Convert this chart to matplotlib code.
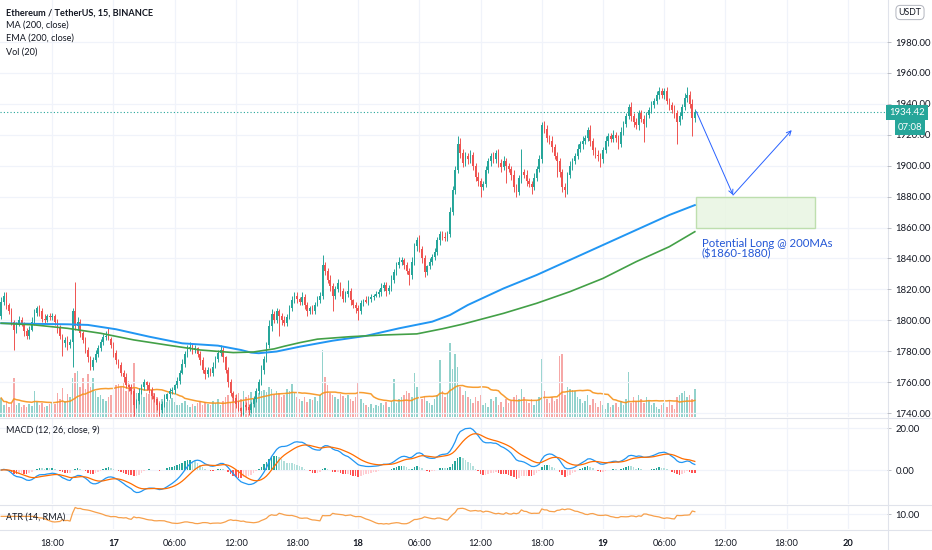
import numpy as np
import pandas as pd
import matplotlib
matplotlib.use("Agg")
import matplotlib.pyplot as plt
import matplotlib.transforms as mtransforms
from matplotlib.patches import Rectangle
from matplotlib.lines import Line2D

plt.rcParams['font.family'] = ['Lato', 'DejaVu Sans']

# ---------------- data (15-minute candles, first one = 16th 13:00) ----------------
first_open = 1803
close = [
    1812, 1816, 1810, 1806, 1799, 1794, 1797, 1800, 1798, 1793,
    1790, 1794, 1799, 1805, 1808, 1806, 1801, 1800, 1803, 1802,
    1803, 1799, 1795, 1790, 1785, 1787, 1784, 1786, 1806, 1796,
    1799, 1792, 1787, 1781, 1776, 1770, 1774, 1778, 1782, 1786,
    1789, 1790, 1788, 1784, 1779, 1774, 1771, 1766, 1763, 1758,
    1757, 1754, 1745, 1748, 1753, 1757, 1760, 1758, 1755, 1751,
    1749, 1745, 1742, 1746, 1749, 1752, 1754, 1755, 1758, 1761,
    1766, 1772, 1778, 1782, 1783, 1781, 1782, 1778, 1774, 1768,
    1765, 1768, 1766, 1770, 1775, 1779, 1781, 1776, 1768, 1760,
    1753, 1750, 1746, 1743, 1741, 1745, 1744, 1742, 1746, 1749,
    1754, 1760, 1768, 1775, 1784, 1796, 1804, 1800, 1806, 1803,
    1800, 1798, 1802, 1808, 1813, 1816, 1814, 1812, 1815, 1810,
    1806, 1808, 1806, 1810, 1813, 1816, 1836, 1832, 1826, 1822,
    1816, 1820, 1824, 1819, 1814, 1817, 1819, 1813, 1810, 1808,
    1806, 1811, 1813, 1812, 1814, 1815, 1816, 1817, 1818, 1821,
    1823, 1819, 1821, 1826, 1831, 1836, 1838, 1839, 1836, 1832,
    1829, 1838, 1848, 1852, 1846, 1840, 1831, 1835, 1838, 1841,
    1844, 1852, 1856, 1854, 1853, 1856, 1870, 1884, 1897, 1914,
    1908, 1902, 1906, 1904, 1907, 1900, 1893, 1890, 1886, 1888,
    1897, 1903, 1906, 1904, 1908, 1902, 1899, 1903, 1900, 1898,
    1894, 1886, 1883, 1892, 1896, 1894, 1890, 1888, 1886, 1892,
    1898, 1904, 1926, 1924, 1918, 1916, 1912, 1906, 1903, 1896,
    1886, 1884, 1894, 1900, 1903, 1906, 1911, 1914, 1916, 1918,
    1923, 1916, 1910, 1907, 1906, 1904, 1910, 1916, 1919, 1917,
    1920, 1918, 1914, 1922, 1927, 1932, 1938, 1932, 1928, 1926,
    1934, 1930, 1927, 1933, 1936, 1939, 1942, 1946, 1948, 1946,
    1948, 1942, 1939, 1936, 1934, 1928, 1932, 1938, 1944, 1946,
    1940, 1931, 1934.42,
]
up_wick = [
    3, 2, 2, 1, 2, 1, 2, 3, 2, 1,   2, 2, 3, 2, 1, 2, 2, 3, 1, 2,
    2, 1, 2, 2, 1, 2, 3, 2, 2, 19,  3, 2, 1, 2, 2, 1, 2, 3, 2, 2,
    2, 3, 5, 1, 2, 2, 1, 2, 2, 3,   1, 2, 2, 1, 3, 2, 2, 1, 2, 2,
    2, 1, 2, 2, 3, 1, 2, 2, 1, 2,   2, 3, 2, 2, 3, 2, 2, 1, 2, 2,
    2, 2, 1, 3, 2, 2, 3, 2, 1, 2,   2, 1, 2, 2, 1, 3, 2, 2, 1, 2,
    2, 2, 3, 2, 2, 4, 3, 2, 2, 1,   2, 3, 2, 2, 3, 2, 2, 1, 3, 2,
    2, 1, 2, 2, 3, 2, 6, 2, 2, 3,   2, 2, 3, 1, 2, 2, 7, 2, 1, 2,
    2, 2, 1, 3, 2, 2, 1, 2, 2, 3,   2, 2, 2, 3, 2, 2, 3, 2, 1, 2,
    2, 3, 2, 2, 3, 2, 2, 1, 2, 2,   3, 2, 2, 2, 3, 2, 3, 3, 3, 5,
    4, 3, 3, 2, 3, 2, 2, 3, 2, 2,   3, 2, 2, 3, 2, 3, 2, 3, 2, 2,
    2, 3, 2, 2, 15, 2, 3, 2, 2, 3,  2, 3, 2, 3, 2, 2, 3, 2, 3, 2,
    2, 3, 2, 3, 2, 2, 3, 2, 3, 2,   2, 3, 2, 2, 3, 2, 2, 3, 2, 2,
    3, 2, 2, 3, 2, 2, 2, 3, 2, 3,   2, 2, 3, 2, 2, 3, 2, 2, 3, 2,
    2, 3, 2, 2, 3, 2, 3, 2, 3, 5,   2, 3, 2,
]
dn_wick = [
    2, 2, 3, 2, 2, 13, 2, 1, 2, 3,  2, 2, 1, 2, 2, 3, 2, 2, 1, 2,
    2, 2, 3, 2, 8, 2, 3, 2, 16, 2,  2, 3, 2, 2, 3, 2, 2, 1, 2, 2,
    2, 2, 1, 2, 3, 2, 2, 2, 3, 2,   3, 2, 7, 2, 2, 1, 2, 3, 2, 2,
    2, 3, 4, 2, 2, 1, 2, 2, 3, 2,   2, 1, 2, 2, 2, 3, 2, 2, 3, 2,
    3, 2, 2, 2, 1, 2, 2, 3, 2, 3,   2, 2, 3, 2, 3, 2, 2, 3, 2, 2,
    2, 2, 2, 3, 2, 2, 3, 2, 2, 13,  3, 2, 2, 1, 2, 2, 3, 2, 2, 3,
    3, 2, 2, 2, 1, 2, 2, 3, 2, 3,   10, 2, 2, 3, 2, 2, 2, 3, 2, 3,
    6, 2, 2, 1, 2, 2, 2, 1, 2, 2,   2, 3, 2, 2, 2, 2, 2, 2, 3, 2,
    6, 2, 2, 3, 2, 3, 3, 2, 2, 2,   2, 2, 3, 2, 2, 2, 2, 2, 2, 2,
    3, 3, 2, 3, 2, 3, 3, 3, 6, 2,   2, 2, 3, 2, 2, 3, 3, 2, 11, 2,
    3, 3, 3, 2, 3, 2, 3, 2, 4, 2,   2, 2, 2, 3, 3, 2, 3, 2, 10, 3,
    3, 4, 2, 2, 3, 2, 2, 2, 3, 2,   2, 3, 3, 2, 3, 5, 2, 2, 3, 2,
    2, 3, 3, 2, 2, 2, 2, 3, 3, 2,   3, 2, 12, 2, 2, 2, 2, 2, 3, 2,
    3, 2, 3, 2, 3, 14, 2, 2, 2, 3,  3, 12, 3,
]
volume = [
    19, 12, 15, 10, 14, 39, 12, 14, 10, 12,  10, 13, 11, 26, 15, 12, 14, 10, 11, 13,
    15, 13, 24, 18, 29, 16, 23, 20, 39, 44,  46, 30, 39, 28, 43, 30, 39, 26, 20, 22,
    18, 16, 20, 22, 30, 32, 33, 30, 35, 26,  36, 28, 54, 24, 22, 26, 20, 24, 23, 22,
    24, 20, 16, 18, 14, 15, 17, 19, 15, 12,  12, 14, 16, 12, 10, 13, 11, 14, 16, 12,
    15, 13, 12, 16, 14, 18, 12, 16, 20, 22,  15, 20, 22, 24, 18, 26, 20, 22, 25, 18,
    20, 24, 26, 27, 25, 30, 28, 22, 26, 24,  20, 22, 28, 26, 33, 24, 20, 18, 16, 20,
    15, 18, 17, 20, 16, 22, 67, 40, 32, 24,  22, 20, 18, 23, 21, 19, 22, 18, 16, 20,
    34, 18, 14, 12, 10, 13, 9, 12, 11, 14,   12, 15, 10, 16, 38, 14, 18, 20, 22, 26,
    24, 20, 44, 30, 22, 18, 20, 16, 14, 12,  18, 22, 57, 26, 20, 24, 74, 48, 63, 50,
    30, 22, 26, 20, 18, 14, 20, 16, 22, 12,  14, 10, 18, 16, 20, 12, 15, 10, 18, 14,
    16, 20, 22, 18, 28, 20, 16, 14, 18, 12,  16, 20, 58, 26, 18, 14, 20, 16, 18, 61,
    63, 22, 30, 28, 27, 26, 20, 18, 14, 16,  22, 12, 18, 14, 10, 16, 12, 8, 14, 10,
    12, 14, 10, 16, 12, 18, 45, 14, 20, 16,  22, 18, 14, 20, 16, 12, 14, 10, 8, 12,
    14, 10, 16, 12, 8, 20, 22, 24, 26, 20,   22, 18, 28,
]
# MA(200) and EMA(200) at selected candles
ma_idx = [0, 13, 26, 34, 45, 58, 71, 85, 94, 98, 101, 108, 117, 130, 143, 156, 169, 176, 183, 197,
          210, 223, 236, 249, 262, 272]
ma_val = [1798.1, 1797.7, 1797.4, 1797.0, 1794.2, 1789.4, 1785.1, 1783.6, 1780.8, 1779.1,
          1778.7, 1779.8, 1782.9, 1786.8, 1789.9, 1794.8, 1799.1, 1803.4, 1809.9, 1820.6,
          1829.3, 1839.0, 1848.7, 1858.4, 1868.1, 1874.5]
ema_idx = [0, 13, 26, 39, 52, 65, 78, 91, 99, 107, 111, 117, 124, 137, 150, 163, 173, 181, 197, 210,
           223, 236, 249, 262, 272]
ema_val = [1798.1, 1797.0, 1794.8, 1791.6, 1787.3, 1784.0, 1780.8, 1779.1, 1779.5, 1781.5,
           1783.2, 1785.5, 1787.8, 1789.4, 1790.5, 1791.2, 1794.5, 1797.5, 1804.5, 1811.0,
           1818.5, 1827.1, 1837.9, 1847.6, 1857.3]

last_price = 1934.42
zone_low, zone_high = 1860, 1880
arrow_pts_x = [272.6, 287, 310]
arrow_pts_y = [1935, 1881, 1923]
zone_x = [272.6, 319.1]

time_tick_pos = [20, 44, 68, 92, 116, 140, 164, 188, 212, 236, 260, 284, 308, 332]
time_tick_lab = ['18:00', '17', '06:00', '12:00', '18:00', '18', '06:00', '12:00', '18:00',
                 '19', '06:00', '12:00', '18:00', '20']
price_ticks = [1740, 1760, 1780, 1800, 1820, 1840, 1860, 1880, 1900, 1920, 1940, 1960, 1980]
macd_ticks = [0, 20]
atr_ticks = [10]

# ---------------- derived series ----------------
c = np.array(close, dtype=float)
o = np.concatenate([[first_open], c[:-1]])
hi = np.maximum(o, c) + np.array(up_wick)
lo = np.minimum(o, c) - np.array(dn_wick)
idx = np.arange(len(c))
GREEN, RED = '#26a69a', '#ef5350'
col = np.where(c >= o, GREEN, RED)

cs = pd.Series(c)
macd = cs.ewm(span=12, adjust=False).mean() - cs.ewm(span=26, adjust=False).mean()
signal = macd.ewm(span=9, adjust=False).mean()
hist = macd - signal
prev = hist.shift(1).fillna(0)
hcol = np.where(hist >= 0, np.where(hist >= prev, '#26a69a', '#b2dfdb'),
                np.where(hist < prev, '#ff5252', '#ffcdd2'))

# ATR(14) with RMA seeded by the simple mean of the first 14 true ranges
pc = np.concatenate([[first_open], c[:-1]])
tr = np.maximum(hi - lo, np.maximum(np.abs(hi - pc), np.abs(lo - pc)))
atr = np.empty_like(tr)
for k in range(len(tr)):
    if k < 14:
        atr[k] = tr[:14].mean()
    else:
        atr[k] = (atr[k - 1] * 13 + tr[k]) / 14

vol = np.array(volume, dtype=float)
vma = pd.Series(vol).rolling(20, min_periods=1).mean()

# ---------------- layout ----------------
W, H = 932, 550
RIGHT = 887
fig = plt.figure(figsize=(W / 100, H / 100), dpi=100)
fig.patch.set_facecolor('white')

def rect(top, bottom):
    return [0, 1 - bottom / H, RIGHT / W, (bottom - top) / H]

ax = fig.add_axes(rect(0, 417))
axm = fig.add_axes(rect(418, 504), sharex=ax)
axa = fig.add_axes(rect(505, 529), sharex=ax)
axv = ax.twinx()
ax.set_zorder(3)
axv.set_zorder(2)
ax.patch.set_visible(False)

XMIN, XMAX = -0.47, 347.37
ax.set_xlim(XMIN, XMAX)
ax.set_ylim(1737.44, 2007.17)
axv.set_ylim(0, 417)
axm.set_ylim(-16.2, 24.8)

GRID = '#f0f3fa'
TXT = '#131722'
for a in (ax, axm, axa, axv):
    for s in a.spines.values():
        s.set_visible(False)
for a in (ax, axm, axa):
    for t in time_tick_pos:
        a.axvline(t, color=GRID, lw=0.9, zorder=0)
for p in price_ticks:
    ax.axhline(p, color=GRID, lw=0.9, zorder=0)
for p in macd_ticks:
    axm.axhline(p, color=GRID, lw=0.9, zorder=0)

# volume
axv.bar(idx, vol, width=0.62, color=col, alpha=0.5, linewidth=0)
axv.plot(idx, vma, color='#f7931a', lw=1.1, alpha=0.9)
axv.set_yticks([])
axv.yaxis.set_visible(False)

# candles
ax.vlines(idx, lo, hi, color=col, lw=0.7, zorder=3)
ax.bar(idx, np.maximum(np.abs(c - o), 0.4), bottom=np.minimum(o, c), width=0.62,
       color=col, linewidth=0, zorder=4)

# moving averages
ax.plot(ma_idx, ma_val, color='#2196f3', lw=1.4, zorder=5)
ax.plot(ema_idx, ema_val, color='#43a047', lw=1.2, zorder=5)

# last price line
ax.axhline(last_price, color=GREEN, lw=0.8, ls=(0, (1, 2)), zorder=2)

# drawings
ax.add_patch(Rectangle((zone_x[0], zone_low), zone_x[1] - zone_x[0], zone_high - zone_low,
                       facecolor='#e8f5e2', edgecolor='#b5dba3', lw=1.0, alpha=0.85, zorder=2))
for k in range(2):
    ax.annotate('', xy=(arrow_pts_x[k + 1], arrow_pts_y[k + 1]),
                xytext=(arrow_pts_x[k], arrow_pts_y[k]),
                arrowprops=dict(arrowstyle='->', color='#2962ff', lw=0.7,
                                shrinkA=0, shrinkB=0, mutation_scale=8), zorder=6)
ax.text(274.8, 1853.5, 'Potential Long @ 200MAs\n($1860-1880)', color='#2457d6',
        fontsize=8.2, va='top', ha='left', linespacing=1.0, zorder=6)

# y axes (right side)
for a, ticks in ((ax, price_ticks), (axm, macd_ticks), (axa, atr_ticks)):
    a.yaxis.tick_right()
    a.set_yticks(ticks)
    a.set_yticklabels(['%.2f' % t for t in ticks])
    a.tick_params(axis='y', length=3, width=0.6, color='#b2b5be', labelsize=6.9,
                  labelcolor=TXT, pad=3)

# MACD
axm.bar(idx, hist, width=0.6, color=hcol, linewidth=0)
axm.plot(idx, macd, color='#2196f3', lw=0.9)
axm.plot(idx, signal, color='#ff6d00', lw=0.9)

# ATR
axa.plot(idx, atr, color='#f7a04b', lw=0.9)
lo_a, hi_a = float(atr.min()), float(atr.max())
rng = max(hi_a - lo_a, 1e-6)
axa.set_ylim(lo_a - 0.3 * rng, hi_a + 0.15 * rng)
for p in atr_ticks:
    axa.axhline(p, color=GRID, lw=0.9, zorder=0)

# x axis
for a in (ax, axm):
    a.tick_params(axis='x', bottom=False, labelbottom=False)
axa.set_xticks(time_tick_pos)
axa.set_xticklabels(time_tick_lab)
axa.tick_params(axis='x', length=0, labelsize=6.7, labelcolor=TXT, pad=7)
for lab in axa.get_xticklabels():
    if ':' not in lab.get_text():
        lab.set_fontweight('bold')

# separators
SEP = '#e0e3eb'
for yy in (417.5, 504.5, 529.5):
    fig.add_artist(Line2D([0, 1], [1 - yy / H, 1 - yy / H], transform=fig.transFigure,
                          color=SEP, lw=0.8))
fig.add_artist(Line2D([(RIGHT + 0.5) / W] * 2, [0, 1], transform=fig.transFigure,
                      color=SEP, lw=0.8))

# price tag + countdown
trans = mtransforms.blended_transform_factory(fig.transFigure, ax.transData)
ax.text(907 / W, last_price, '%.2f' % last_price, transform=trans, ha='center', va='center',
        color='white', fontsize=6.9, clip_on=False, zorder=10,
        bbox=dict(boxstyle='square,pad=0.3', fc=GREEN, ec='none'))
trans2 = trans + mtransforms.ScaledTranslation(0.03, -0.15, fig.dpi_scale_trans)
ax.text(907 / W, last_price, '07:08', transform=trans2, ha='center', va='center',
        color='white', fontsize=6.9, clip_on=False, zorder=10,
        bbox=dict(boxstyle='square,pad=0.3', fc=GREEN, ec='none'))

fig.text(910 / W, 1 - 12.5 / H, 'USDT', ha='center', va='center', fontsize=6.3, color=TXT,
         bbox=dict(boxstyle='round,pad=0.3,rounding_size=0.5', fc='white', ec='#b2b5be', lw=0.7))

# legends
fig.text(6 / W, 1 - 12.7 / H, 'Ethereum / TetherUS, 15, BINANCE', fontsize=6.6,
         fontweight='bold', color=TXT, va='center')
for yy, s in ((25.3, 'MA (200, close)'), (38.3, 'EMA (200, close)'), (51.7, 'Vol (20)')):
    fig.text(6 / W, 1 - yy / H, s, fontsize=6.6, color=TXT, va='center')
fig.text(6 / W, 1 - 430 / H, 'MACD (12, 26, close, 9)', fontsize=6.5, color=TXT, va='center')
fig.text(6 / W, 1 - 517 / H, 'ATR (14, RMA)', fontsize=6.5, color=TXT, va='center')

fig.savefig('out.png', dpi=100, facecolor='white')
